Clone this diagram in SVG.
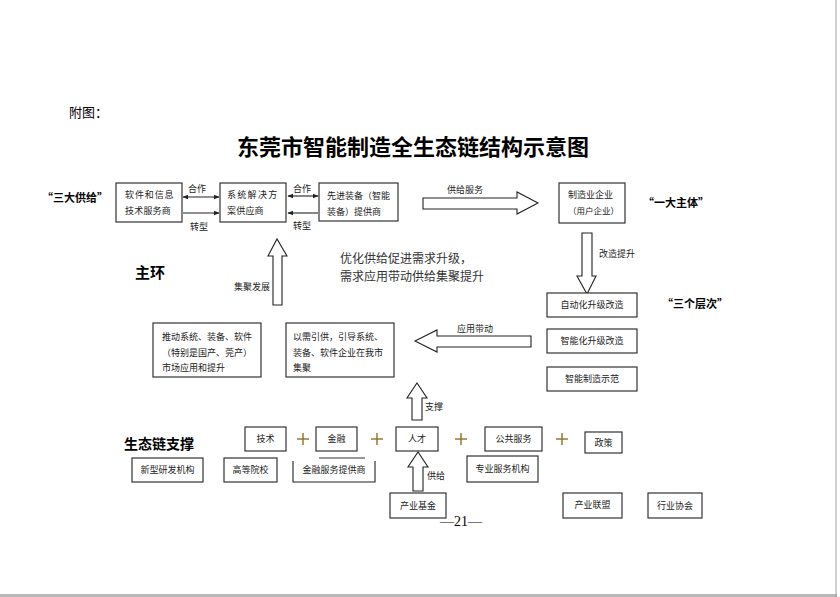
<svg xmlns="http://www.w3.org/2000/svg" width="840" height="597" viewBox="0 0 840 597">
<defs>
<style>
.t{font-family:"Noto Sans CJK SC","Noto Sans",sans-serif;font-size:9px;fill:#222}
.b{font-family:"Noto Sans CJK SC","Noto Sans",sans-serif;font-weight:bold;fill:#000}
.box{fill:#fff;stroke:#333;stroke-width:1.2}
.arr{fill:#fff;stroke:#222;stroke-width:1.1}
.ln{stroke:#222;stroke-width:1.1;fill:none}
.plus{stroke:#8e6f26;stroke-width:1.4}
</style>
<marker id="ah" viewBox="0 0 10 10" refX="9" refY="5" markerWidth="6" markerHeight="6" orient="auto-start-reverse" markerUnits="userSpaceOnUse">
<path d="M0,1 L10,5 L0,9 z" fill="#222"/>
</marker>
</defs>
<rect width="840" height="597" fill="#fff"/>
<rect x="0" y="594" width="837" height="3" fill="#b8b8b8"/>
<line x1="836" y1="0" x2="836" y2="597" stroke="#a0a0a0" stroke-width="1"/>

<text x="69" y="117" font-family="Noto Sans CJK SC, Noto Sans, sans-serif" font-size="13" fill="#000">附图：</text>
<text class="b" x="413" y="155" font-size="22" text-anchor="middle">东莞市智能制造全生态链结构示意图</text>

<text class="b" x="42" y="202" font-size="11">“三大供给”</text>
<text class="b" x="643" y="207" font-size="11">“一大主体”</text>
<text class="b" x="662" y="308" font-size="11">“三个层次”</text>
<text class="b" x="135" y="278" font-size="15">主环</text>
<text class="b" x="124" y="449" font-size="14">生态链支撑</text>
<text class="t" x="340" y="263" style="font-size:12px;fill:#333">优化供给促进需求升级，</text>
<text class="t" x="340" y="281" style="font-size:12px;fill:#333">需求应用带动供给集聚提升</text>

<g id="connectors">
<line class="ln" x1="183" y1="197" x2="219" y2="197" marker-start="url(#ah)" marker-end="url(#ah)"/>
<line class="ln" x1="183" y1="213" x2="219" y2="213" marker-end="url(#ah)"/>
<line class="ln" x1="288" y1="196" x2="318" y2="196" marker-start="url(#ah)" marker-end="url(#ah)"/>
<line class="ln" x1="288" y1="213" x2="318" y2="213" marker-start="url(#ah)"/>
<text class="t" x="188" y="192">合作</text>
<text class="t" x="190" y="230">转型</text>
<text class="t" x="293" y="192">合作</text>
<text class="t" x="293" y="229">转型</text>
<polygon class="arr" points="423,198 517,198 517,192 538,203 517,214 517,209 423,209"/>
<text class="t" x="447" y="193">供给服务</text>
<polygon class="arr" points="582,233 592,233 592,276 596,276 587,294 577,276 582,276"/>
<text class="t" x="599" y="257">改造提升</text>
<polygon class="arr" points="531,336 437,336 437,330 415,341 437,352 437,347 531,347"/>
<text class="t" x="457" y="332">应用带动</text>
<polygon class="arr" points="273,305 282,305 282,256 287,256 277,239 268,256 273,256"/>
<text class="t" x="234" y="290">集聚发展</text>
<polygon class="arr" points="412,420 422,420 422,398 427,398 417,383 407,398 412,398"/>
<text class="t" x="425" y="410">支撑</text>
<polygon class="arr" points="413,491 423,491 423,467 428,467 418,452 408,467 413,467"/>
<text class="t" x="427" y="479">供给</text>
<line class="plus" x1="297" y1="439" x2="309" y2="439"/><line class="plus" x1="303" y1="433" x2="303" y2="445"/>
<line class="plus" x1="371" y1="439" x2="383" y2="439"/><line class="plus" x1="377" y1="433" x2="377" y2="445"/>
<line class="plus" x1="455" y1="439" x2="467" y2="439"/><line class="plus" x1="461" y1="433" x2="461" y2="445"/>
<line class="plus" x1="556" y1="439" x2="568" y2="439"/><line class="plus" x1="562" y1="433" x2="562" y2="445"/>
</g>

<g id="n-software"><rect class="box" x="116" y="183" width="66" height="39"/>
<text class="t" x="125" y="198" letter-spacing="0.9">软件和信息</text>
<text class="t" x="125" y="214" letter-spacing="0.2">技术服务商</text></g>
<g id="n-system"><rect class="box" x="220" y="183" width="66" height="39"/>
<text class="t" x="227" y="198" letter-spacing="1.3">系统解决方</text>
<text class="t" x="227" y="214" letter-spacing="0.2">案供应商</text></g>
<g id="n-equip"><rect class="box" x="319" y="183" width="79" height="38"/>
<text class="t" x="327" y="199">先进装备（智能</text>
<text class="t" x="327" y="215">装备）提供商</text></g>
<g id="n-mfg"><rect class="box" x="559" y="183" width="66" height="40"/>
<text class="t" x="568" y="198">制造业企业</text>
<text class="t" x="568" y="214" style="font-size:8.5px">（用户企业）</text></g>
<g id="n-auto"><rect class="box" x="547" y="293" width="90" height="24"/>
<text class="t" x="592" y="308" text-anchor="middle">自动化升级改造</text></g>
<g id="n-smart"><rect class="box" x="547" y="329" width="90" height="24"/>
<text class="t" x="592" y="344" text-anchor="middle">智能化升级改造</text></g>
<g id="n-demo"><rect class="box" x="547" y="367" width="90" height="24"/>
<text class="t" x="592" y="382" text-anchor="middle">智能制造示范</text></g>
<g id="n-push"><rect class="box" x="153" y="323" width="108" height="54"/>
<text class="t" x="162" y="340">推动系统、装备、软件</text>
<text class="t" x="162" y="356">（特别是国产、莞产）</text>
<text class="t" x="162" y="371">市场应用和提升</text></g>
<g id="n-demand"><rect class="box" x="286" y="323" width="108" height="54"/>
<text class="t" x="293" y="340">以需引供，引导系统、</text>
<text class="t" x="293" y="356">装备、软件企业在我市</text>
<text class="t" x="293" y="371">集聚</text></g>
<g id="n-tech"><rect class="box" x="245" y="427" width="41" height="24"/>
<text class="t" x="265.5" y="442" text-anchor="middle">技术</text></g>
<g id="n-fin"><rect class="box" x="316" y="427" width="41" height="24"/>
<text class="t" x="336.5" y="442" text-anchor="middle">金融</text></g>
<g id="n-talent"><rect class="box" x="396" y="427" width="42" height="24"/>
<text class="t" x="417" y="442" text-anchor="middle">人才</text></g>
<g id="n-public"><rect class="box" x="485" y="427" width="57" height="24"/>
<text class="t" x="513.5" y="442" text-anchor="middle">公共服务</text></g>
<g id="n-policy"><rect class="box" x="585" y="432" width="37" height="21"/>
<text class="t" x="603.5" y="446" text-anchor="middle">政策</text></g>
<g id="n-rnd"><rect class="box" x="132" y="458" width="71" height="24"/>
<text class="t" x="167.5" y="473" text-anchor="middle">新型研发机构</text></g>
<g id="n-univ"><rect class="box" x="224" y="458" width="53" height="24"/>
<text class="t" x="250.5" y="473" text-anchor="middle">高等院校</text></g>
<g id="n-finsp"><path class="ln" d="M293,461 V482 H375 V461" stroke="#333" stroke-width="1.2"/>
<line x1="319" y1="458" x2="365" y2="458" stroke="#333" stroke-width="1.2"/>
<text class="t" x="334" y="473" text-anchor="middle">金融服务提供商</text></g>
<g id="n-prof"><rect class="box" x="467" y="456" width="71" height="26"/>
<text class="t" x="502.5" y="472" text-anchor="middle">专业服务机构</text></g>
<g id="n-fund"><rect class="box" x="390" y="493" width="56" height="25"/>
<text class="t" x="418" y="509" text-anchor="middle">产业基金</text></g>
<g id="n-alliance"><rect class="box" x="563" y="493" width="59" height="25"/>
<text class="t" x="592.5" y="508" text-anchor="middle">产业联盟</text></g>
<g id="n-assoc"><rect class="box" x="648" y="493" width="54" height="25"/>
<text class="t" x="675" y="509" text-anchor="middle">行业协会</text></g>

<text x="461" y="526" font-family="Liberation Serif, serif" font-size="14" text-anchor="middle" fill="#000">—21—</text>
</svg>
